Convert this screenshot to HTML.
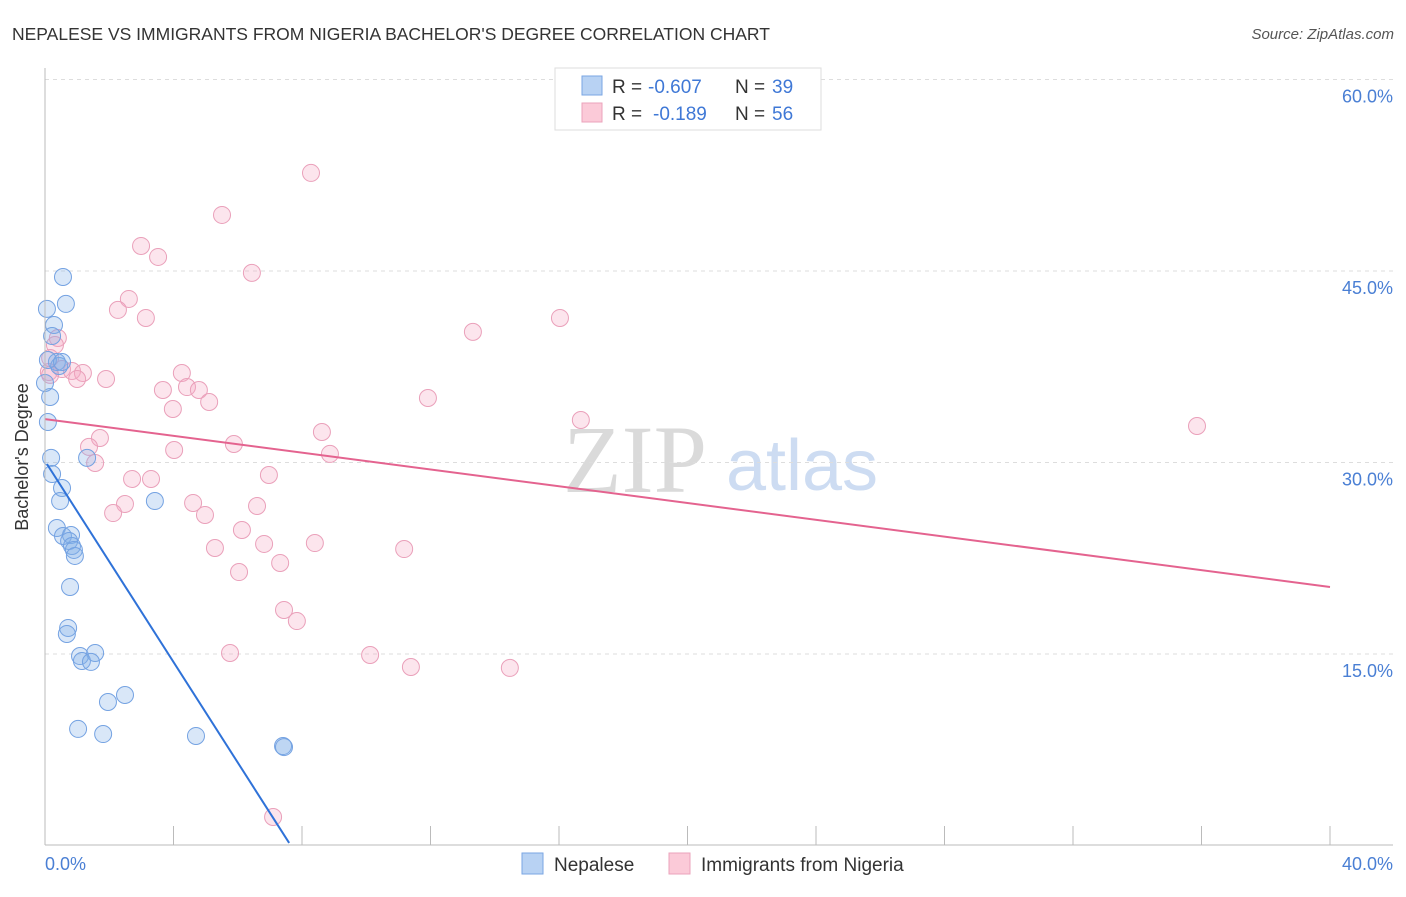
<!DOCTYPE html>
<html><head><meta charset="utf-8"><style>
body{margin:0;background:#fff;font-family:"Liberation Sans",sans-serif}
svg text{font-family:"Liberation Sans",sans-serif}
</style></head><body>
<svg id="c" width="1406" height="892" xmlns="http://www.w3.org/2000/svg">
<text x="12" y="40" font-size="17.5" fill="#333">NEPALESE VS IMMIGRANTS FROM NIGERIA BACHELOR'S DEGREE CORRELATION CHART</text>
<text x="1394" y="39" font-size="15" fill="#555" text-anchor="end" font-style="italic">Source: ZipAtlas.com</text>
<text x="635" y="492" font-size="96" fill="#dadada" text-anchor="middle" style="font-family:'Liberation Serif',serif">ZIP</text>
<text x="802" y="490" font-size="72" fill="#cddcf2" text-anchor="middle">atlas</text>
<g id="grid"></g><g id="pts"></g><g id="lines"></g>
<line x1="45" y1="68" x2="45" y2="845" stroke="#bbb"/>
<line x1="45" y1="845" x2="1393" y2="845" stroke="#bbb"/>
<text x="28" y="457" font-size="18" fill="#333" text-anchor="middle" transform="rotate(-90 28 457)">Bachelor's Degree</text>
<text x="45" y="870" font-size="18" fill="#4a7fd4">0.0%</text>
<text x="1393" y="870" font-size="18" fill="#4a7fd4" text-anchor="end">40.0%</text>
<g>
<rect x="555" y="68" width="266" height="62" fill="#fff" stroke="#ddd"/>
<rect x="582" y="76" width="20" height="19" fill="#b8d2f3" stroke="#7aa6e3"/>
<rect x="582" y="103" width="20" height="19" fill="#fbcad8" stroke="#eba3bb"/>
<text x="612" y="93" font-size="19" fill="#333">R =</text>
<text x="648" y="93" font-size="19" fill="#3f78d6">-0.607</text>
<text x="735" y="93" font-size="19" fill="#333">N =</text>
<text x="772" y="93" font-size="19" fill="#3f78d6">39</text>
<text x="612" y="120" font-size="19" fill="#333">R =</text>
<text x="653" y="120" font-size="19" fill="#3f78d6">-0.189</text>
<text x="735" y="120" font-size="19" fill="#333">N =</text>
<text x="772" y="120" font-size="19" fill="#3f78d6">56</text>
</g>
<g>
<rect x="522" y="853" width="21" height="21" fill="#b8d2f3" stroke="#7aa6e3"/>
<text x="554" y="871" font-size="19" fill="#333">Nepalese</text>
<rect x="669" y="853" width="21" height="21" fill="#fbcad8" stroke="#eba3bb"/>
<text x="701" y="871" font-size="19" fill="#333">Immigrants from Nigeria</text>
</g>
</svg>
<script>
const yTicks=[15,30,45,60];
const yTickLabels=["15.0%","30.0%","45.0%","60.0%"];
const xTicks=[0,4,8,12,16,20,24,28,32,36,40];
const blueX=[0.56,0.06,0.65,0.28,0.22,0.37,0.44,0.16,0.09,0.19,1.31,0.22,0.53,0.47,3.42,0.37,0.56,0.81,0.75,0.84,0.90,0.93,0.78,0.72,0.68,1.09,1.56,1.15,1.43,2.49,1.96,1.03,1.81,4.70,7.41,7.44,0.09,0.0,0.53];
const blueY=[44.53,42.03,42.42,40.77,39.91,37.87,37.56,35.13,33.17,30.36,30.36,29.10,28.00,26.98,26.98,24.87,24.24,24.32,23.85,23.46,23.15,22.68,20.25,17.04,16.57,14.84,15.08,14.45,14.38,11.79,11.24,9.13,8.73,8.58,7.79,7.71,38.03,36.23,37.87];
const pinkX=[8.28,5.51,2.99,3.52,6.44,2.61,2.27,3.14,13.32,16.03,0.40,0.31,0.16,0.12,0.53,0.84,1.18,1.00,1.90,4.26,3.67,4.42,4.79,5.11,3.98,11.92,16.68,35.86,1.71,1.37,4.02,5.88,8.62,8.87,1.56,2.71,3.30,6.97,4.61,2.49,2.12,4.98,6.60,6.13,5.29,6.82,8.40,11.18,7.32,6.04,7.44,7.84,5.76,10.12,11.39,14.47,7.10,0.16];
const pinkY=[52.68,49.39,46.96,46.10,44.85,42.81,41.95,41.32,40.23,41.32,39.75,39.20,38.18,37.09,37.32,37.17,37.01,36.54,36.54,37.01,35.68,35.91,35.68,34.74,34.19,35.05,33.33,32.86,31.92,31.22,30.98,31.45,32.39,30.67,29.96,28.71,28.71,29.02,26.83,26.75,26.04,25.89,26.59,24.71,23.30,23.62,23.69,23.22,22.13,21.42,18.45,17.58,15.08,14.92,13.98,13.91,2.23,36.86];
const blueTrend=[[0.06,29.88],[7.6,0.2]];
const pinkTrend=[[0,33.4],[40,20.25]];
const NS="http://www.w3.org/2000/svg";
const sx=v=>45+v*32.125, sy=v=>845.5-v*12.767;
function mk(tag,attrs,parent){const e=document.createElementNS(NS,tag);for(const k in attrs)e.setAttribute(k,attrs[k]);document.getElementById(parent).appendChild(e);return e;}
yTicks.forEach((t,i)=>{
 const l=mk('line',{x1:45,x2:1393,y1:sy(t),y2:sy(t),stroke:'#ddd','stroke-dasharray':'4,4'},'grid');
 
 
 const tx=mk('text',{x:1393,y:sy(t)+23,'font-size':18,fill:'#4a7fd4','text-anchor':'end'},'grid');
 tx.textContent=yTickLabels[i];
 
 
});
xTicks.forEach(t=>{
 const l=mk('line',{x1:sx(t),x2:sx(t),y1:826,y2:845,stroke:'#bbb'},'grid');
 
 
});
function pts(X,Y,fill,stroke,name){X.forEach((x,i)=>{
 const c=mk('circle',{cx:sx(x),cy:sy(Y[i]),r:8.5,fill:fill,stroke:stroke,'stroke-width':1},'pts');
 
 
});}
pts(pinkX,pinkY,'rgba(246,170,196,0.3)','#eaa0ba','nigeria-point');
pts(blueX,blueY,'rgba(130,175,232,0.3)','#74a2e2','nepalese-point');
const b=mk('line',{x1:sx(blueTrend[0][0]),y1:sy(blueTrend[0][1]),x2:sx(blueTrend[1][0]),y2:sy(blueTrend[1][1]),stroke:'#2f72d8','stroke-width':2},'lines');


const p=mk('line',{x1:sx(pinkTrend[0][0]),y1:sy(pinkTrend[0][1]),x2:sx(pinkTrend[1][0]),y2:sy(pinkTrend[1][1]),stroke:'#e4638f','stroke-width':2},'lines');


</script>
</body></html>
